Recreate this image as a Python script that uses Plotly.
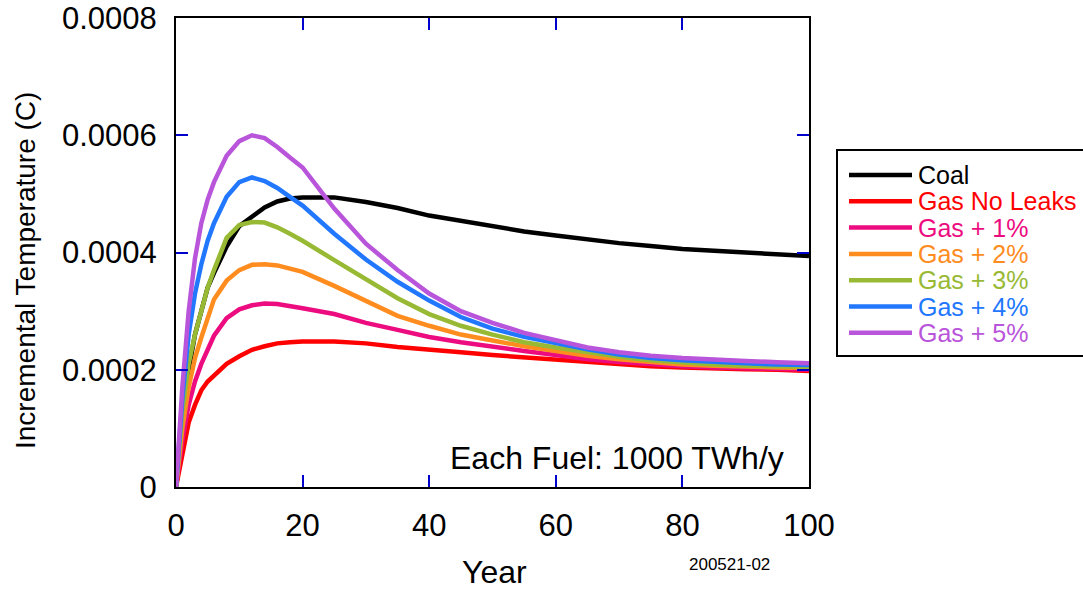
import plotly.graph_objects as go

years = [0, 1, 2, 3, 4, 5, 6, 8, 10, 12, 14, 16, 18, 20, 25, 30, 35, 40, 45, 50,
         55, 60, 65, 70, 75, 80, 85, 90, 95, 100]

coal = [0, 0.00011, 0.0002, 0.00026, 0.0003, 0.00034, 0.000365, 0.00041, 0.000445,
        0.00046, 0.000477, 0.000487, 0.000492, 0.000494, 0.000494, 0.000486, 0.000476,
        0.000463, 0.000454, 0.000444, 0.000436, 0.000429, 0.000422, 0.000416, 0.000411,
        0.000406, 0.000403, 0.0004, 0.000397, 0.000394]
gas_no_leaks = [0, 0.00006, 0.00011, 0.00014, 0.000165, 0.00018, 0.00019, 0.00021,
                0.000223, 0.000234, 0.00024, 0.000245, 0.000247, 0.000248, 0.000248,
                0.000245, 0.000239, 0.000235, 0.00023, 0.000225, 0.000221, 0.000217,
                0.000213, 0.000209, 0.000206, 0.000204, 0.000202, 0.000201, 0.0002, 0.000198]
gas_1 = [0, 0.00008, 0.00014, 0.00018, 0.00021, 0.000235, 0.000258, 0.000288, 0.000303,
         0.00031, 0.000313, 0.000312, 0.000309, 0.000305, 0.000295, 0.00028, 0.000268,
         0.000256, 0.000247, 0.000239, 0.000232, 0.000225, 0.000218, 0.000213, 0.000209,
         0.000206, 0.000204, 0.000203, 0.000201, 0.0002]
gas_2 = [0, 0.0001, 0.00017, 0.00022, 0.000255, 0.00029, 0.00032, 0.000352, 0.00037,
         0.000379, 0.00038, 0.000378, 0.000373, 0.000367, 0.000343, 0.000317, 0.000292,
         0.000275, 0.00026, 0.00025, 0.00024, 0.000232, 0.000224, 0.000218, 0.000213,
         0.000209, 0.000207, 0.000205, 0.000204, 0.000203]
gas_3 = [0, 0.00013, 0.00021, 0.00026, 0.0003, 0.00034, 0.00037, 0.000425, 0.000447,
         0.000452, 0.000451, 0.000443, 0.000432, 0.00042, 0.000387, 0.000355, 0.000322,
         0.000295, 0.000275, 0.00026, 0.000247, 0.000238, 0.00023, 0.000222, 0.000216,
         0.000212, 0.000209, 0.000207, 0.000206, 0.000205]
gas_4 = [0, 0.00015, 0.00026, 0.00033, 0.00038, 0.00042, 0.00045, 0.000495, 0.00052,
         0.000528, 0.000522, 0.00051, 0.000495, 0.00048, 0.000432, 0.000388, 0.00035,
         0.000318, 0.00029, 0.00027, 0.000256, 0.000245, 0.000235, 0.000226, 0.00022,
         0.000216, 0.000213, 0.000211, 0.000209, 0.000208]
gas_5 = [0, 0.00017, 0.0003, 0.00039, 0.00045, 0.00049, 0.00052, 0.000565, 0.00059,
         0.0006, 0.000595, 0.00058, 0.000562, 0.000545, 0.000475, 0.000415, 0.00037,
         0.00033, 0.0003, 0.00028, 0.000263, 0.00025, 0.000238, 0.00023, 0.000224,
         0.00022, 0.000217, 0.000215, 0.000213, 0.000211]

series_names = ["Coal", "Gas No Leaks", "Gas + 1%", "Gas + 2%", "Gas + 3%",
                "Gas + 4%", "Gas + 5%"]
series_values = [coal, gas_no_leaks, gas_1, gas_2, gas_3, gas_4, gas_5]
series_colors = ["#000000", "#ff0000", "#ec0c80", "#ff8c1e", "#98b934",
                 "#2277ff", "#b955da"]

x_ticks = [0, 20, 40, 60, 80, 100]
y_ticks = [0, 0.0002, 0.0004, 0.0006, 0.0008]
y_tick_labels = ["0", "0.0002", "0.0004", "0.0006", "0.0008"]

FONT = "Arial, Liberation Sans, Helvetica, sans-serif"
W, H = 1083, 592
# plot area in screen pixels: left 176, right 809, top 18, bottom 487
ML, MT = 176, 18
MR = W - 809
MB = H - 487
PW, PH = W - ML - MR, H - MT - MB


def px_x(p):
    return (p - ML) / PW


def px_y(p):
    return (H - MB - p) / PH


fig = go.Figure()
for name, vals, col in zip(series_names, series_values, series_colors):
    fig.add_trace(go.Scatter(x=years, y=vals, mode="lines", name=name,
                             line=dict(color=col, width=4.5), showlegend=False,
                             hoverinfo="skip"))

axis_common = dict(showgrid=False, zeroline=False, showline=True, linecolor="black",
                   linewidth=2, mirror="ticks", ticks="inside", ticklen=12,
                   tickwidth=2, tickcolor="#0000cc", automargin=False,
                   ticklabeloverflow="allow")

fig.update_xaxes(range=[0, 100], tickvals=x_ticks, tickfont=dict(size=31, color="black"),
                 ticklabelstandoff=10, **axis_common)
fig.update_yaxes(range=[0, 0.0008], tickvals=y_ticks, ticktext=y_tick_labels,
                 tickfont=dict(size=31, color="black"), ticklabelstandoff=11,
                 **axis_common)

shapes = []
annotations = []
# manual legend box
shapes.append(dict(type="rect", xref="paper", yref="paper",
                   x0=px_x(837), x1=px_x(1100), y0=px_y(356), y1=px_y(150),
                   line=dict(color="black", width=2), fillcolor="white", layer="above"))
for i, (name, col) in enumerate(zip(series_names, series_colors)):
    yc = 175 + i * 26.3
    shapes.append(dict(type="line", xref="paper", yref="paper",
                       x0=px_x(849), x1=px_x(912), y0=px_y(yc), y1=px_y(yc),
                       line=dict(color=col, width=4.5), layer="above"))
    annotations.append(dict(text=name, xref="paper", yref="paper", x=px_x(916),
                            y=px_y(yc), xanchor="left", yanchor="middle",
                            showarrow=False, font=dict(size=25, color=col, family=FONT)))

annotations.append(dict(text="Year", xref="paper", yref="paper",
                        x=px_x(494), y=px_y(572), xanchor="center", yanchor="middle",
                        showarrow=False, font=dict(size=32, color="black", family=FONT)))
annotations.append(dict(text="Incremental Temperature (C)", xref="paper", yref="paper",
                        x=px_x(25), y=px_y(271), xanchor="center", yanchor="middle",
                        textangle=-90, showarrow=False,
                        font=dict(size=28, color="black", family=FONT)))
annotations.append(dict(text="Each Fuel: 1000 TWh/y", xref="paper", yref="paper",
                        x=px_x(617), y=px_y(458), xanchor="center", yanchor="middle",
                        showarrow=False, font=dict(size=32, color="black", family=FONT)))
annotations.append(dict(text="200521-02", xref="paper", yref="paper",
                        x=px_x(729), y=px_y(564), xanchor="center", yanchor="middle",
                        showarrow=False, font=dict(size=17, color="black", family=FONT)))

fig.update_layout(width=W, height=H, margin=dict(l=ML, r=MR, t=MT, b=MB),
                  paper_bgcolor="white", plot_bgcolor="white",
                  font=dict(family=FONT, color="black"),
                  shapes=shapes, annotations=annotations, hovermode=False)

fig.write_html("out.html", config={"displayModeBar": False, "staticPlot": True},
               post_script="document.body.style.margin='0';"
                           "document.body.style.overflow='hidden';")
